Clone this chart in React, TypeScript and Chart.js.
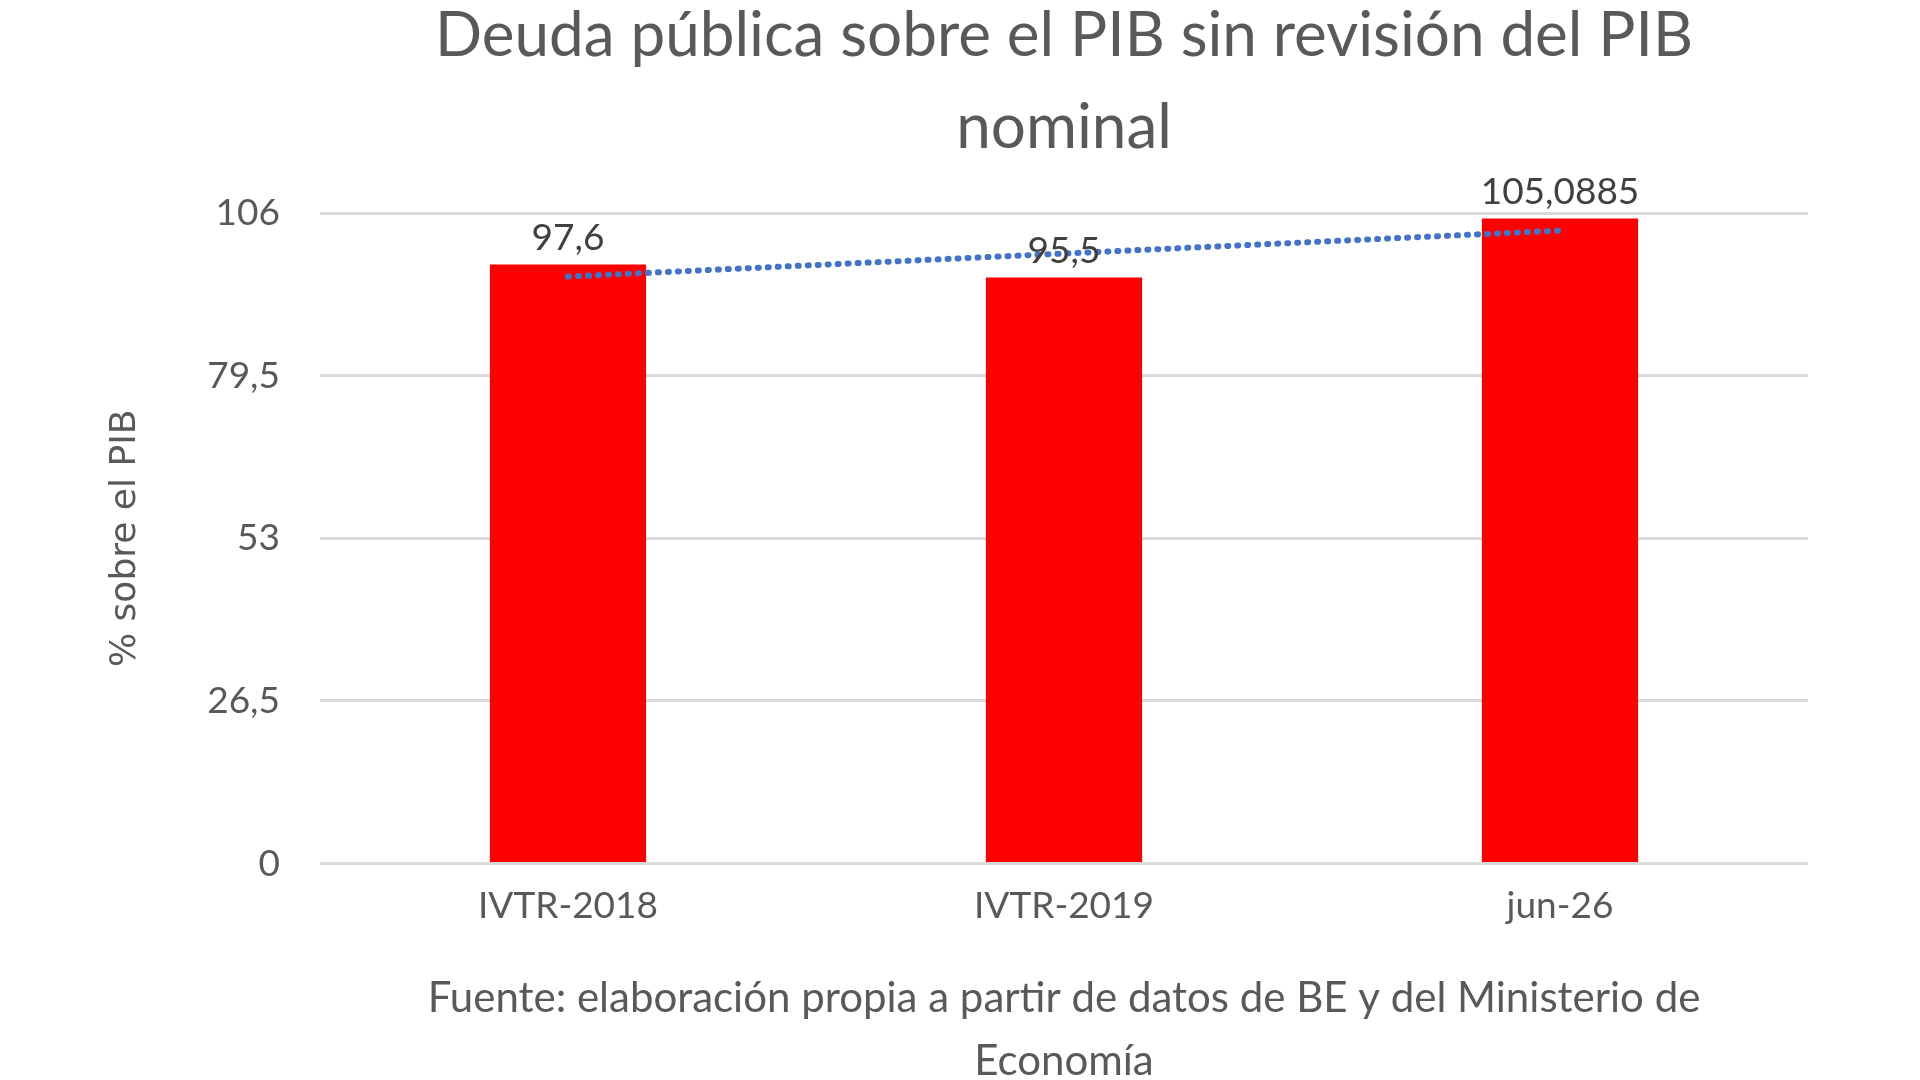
import React, { useEffect, useRef } from "react";
import { Chart, registerables } from "chart.js";
Chart.register(...registerables);

const categories = ["IVTR-2018", "IVTR-2019", "jun-26"];
const debtValues = [97.6, 95.5, 105.0885];
const debtLabels = ["97,6", "95,5", "105,0885"];
const trendValues = [95.65, 99.4, 103.14];
const tickValues = [0, 26.5, 53, 79.5, 106];
const tickLabels = ["0", "26,5", "53", "79,5", "106"];
const titleLines = ["Deuda pública sobre el PIB sin revisión del PIB", "nominal"];
const captionLines = ["Fuente: elaboración propia a partir de datos de BE y del Ministerio de", "Economía"];

const grey = "#595959";

const labelPlugin = {
  id: "barLabels",
  afterDatasetsDraw(chart: any) {
    const ctx = chart.ctx;
    const meta = chart.getDatasetMeta(0);
    const ca = chart.chartArea;
    const cx = (ca.left + ca.right) / 2;
    ctx.save();
    ctx.font = "37px Lato";
    ctx.fillStyle = "#404040";
    ctx.textAlign = "center";
    ctx.textBaseline = "bottom";
    meta.data.forEach((bar: any, i: number) => {
      ctx.fillText(debtLabels[i], bar.x, bar.y - 8);
    });
    ctx.fillStyle = grey;
    ctx.textBaseline = "middle";
    ctx.font = "62px Lato";
    ctx.fillText(titleLines[0], cx, 36);
    ctx.fillText(titleLines[1], cx, 128);
    ctx.font = "42px Lato";
    ctx.fillText(captionLines[0], cx, 998);
    ctx.fillText(captionLines[1], cx, 1061);
    ctx.restore();
  },
};

export default function App() {
  const ref = useRef<HTMLCanvasElement>(null);
  useEffect(() => {
    const chart = new Chart(ref.current!, {
      type: "bar",
      data: {
        labels: categories,
        datasets: [
          {
            type: "bar",
            data: debtValues,
            backgroundColor: "#ff0000",
            barPercentage: 0.315,
            categoryPercentage: 1,
            order: 2,
          },
          {
            type: "line",
            data: trendValues,
            borderColor: "#4472c4",
            borderWidth: 6,
            borderDash: [1, 9],
            borderCapStyle: "round",
            pointRadius: 0,
            fill: false,
            order: 1,
          } as any,
        ],
      },
      options: {
        animation: false,
        responsive: false,
        layout: { padding: { left: 100, right: 112, top: 213, bottom: 140 } },
        plugins: {
          legend: { display: false },
          tooltip: { enabled: false },
        },
        scales: {
          x: {
            grid: { display: false },
            border: { display: false },
            ticks: { color: grey, font: { family: "Lato", size: 37 }, padding: 12 },
          },
          y: {
            min: 0,
            max: 106,
            afterBuildTicks: (s: any) => {
              s.ticks = tickValues.map((v) => ({ value: v }));
            },
            ticks: {
              color: grey,
              font: { family: "Lato", size: 37 },
              padding: 40,
              callback: (v: any) => tickLabels[tickValues.indexOf(Number(v))] ?? "",
            },
            grid: { color: "#d9d9d9", lineWidth: 3, drawTicks: false },
            border: { display: false },
            title: {
              display: true,
              text: "% sobre el PIB",
              color: grey,
              font: { family: "DejaVu Sans", size: 36 },
              padding: { bottom: 20 },
            },
          },
        },
      } as any,
      plugins: [labelPlugin],
    });
    return () => chart.destroy();
  }, []);
  return (
    <div style={{ position: "absolute", left: 0, top: 0, width: 1920, height: 1080, background: "#fff" }}>
      <canvas ref={ref} width={1920} height={1080} />
    </div>
  );
}
